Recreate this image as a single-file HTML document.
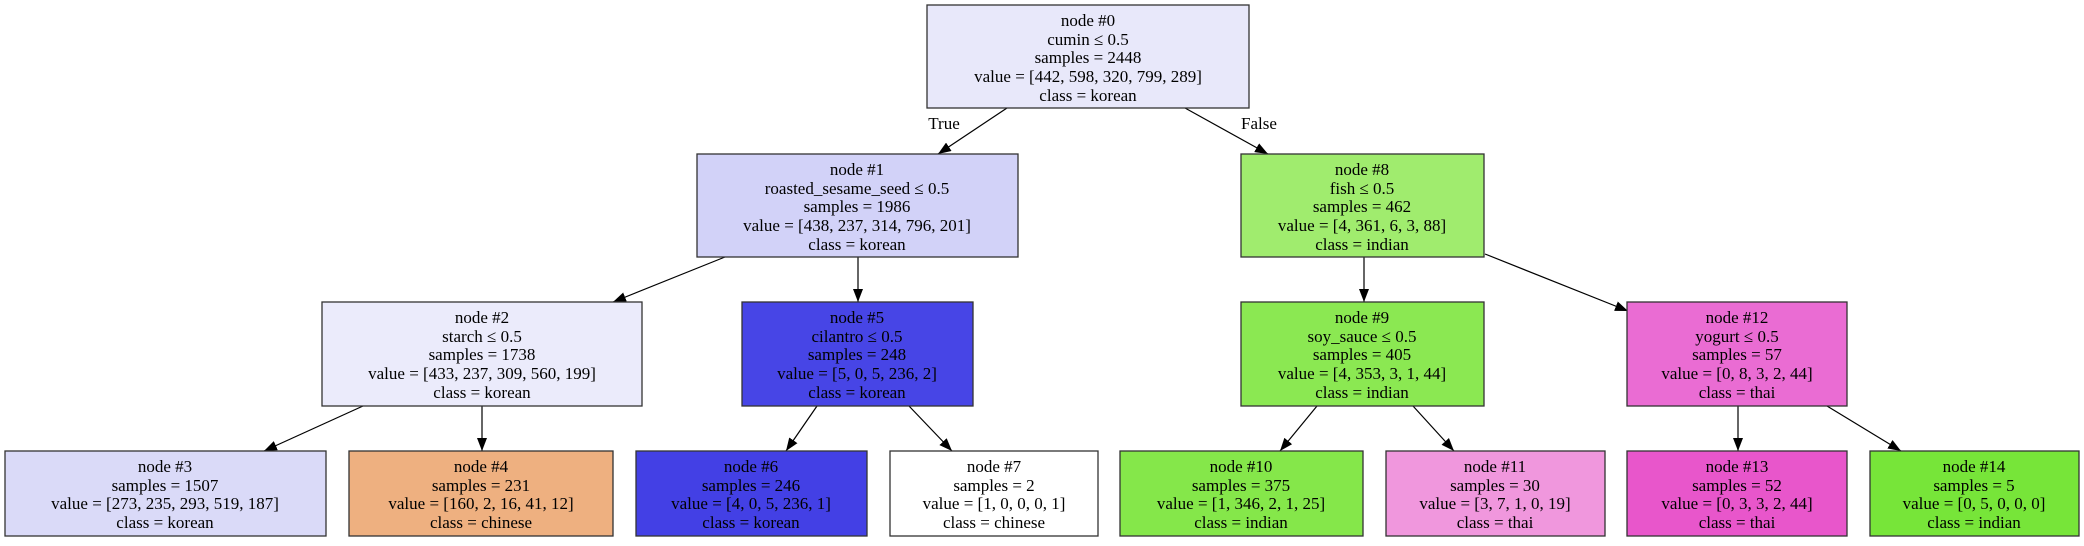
<!DOCTYPE html>
<html><head><meta charset="utf-8"><style>
html,body{margin:0;padding:0;background:#fff;}
svg text{font-family:"Liberation Serif",serif;font-size:17px;text-anchor:middle;fill:#000;}
</style></head><body>
<svg width="2084" height="541" viewBox="0 0 2084 541" xmlns="http://www.w3.org/2000/svg">
<defs><marker id="a" markerWidth="13" markerHeight="10" refX="13" refY="5" orient="auto" markerUnits="userSpaceOnUse"><path d="M0,0 L13,5 L0,10 z" fill="#000"/></marker></defs>
<g stroke="#000" stroke-width="1.2" marker-end="url(#a)">
<line x1="1007" y1="108" x2="938" y2="154"/>
<line x1="1185" y1="108" x2="1268" y2="154"/>
<line x1="725" y1="257" x2="613" y2="302"/>
<line x1="858" y1="257" x2="858" y2="302"/>
<line x1="363" y1="406" x2="264" y2="451"/>
<line x1="482" y1="406" x2="482" y2="451"/>
<line x1="817" y1="406" x2="786" y2="451"/>
<line x1="909" y1="406" x2="952" y2="451"/>
<line x1="1364" y1="257" x2="1364" y2="302"/>
<line x1="1485" y1="254" x2="1628" y2="311"/>
<line x1="1317" y1="406" x2="1280" y2="451"/>
<line x1="1413" y1="406" x2="1454" y2="451"/>
<line x1="1738" y1="406" x2="1738" y2="451"/>
<line x1="1827" y1="406" x2="1901" y2="451"/>
</g>
<text x="944" y="129">True</text>
<text x="1259" y="129">False</text>
<g stroke="#333" stroke-width="1.3">
<rect x="927" y="5" width="322" height="103" fill="#e8e8fa"/>
<rect x="697" y="154" width="321" height="103" fill="#d2d2f8"/>
<rect x="1241" y="154" width="243" height="103" fill="#a0ec6e"/>
<rect x="322" y="302" width="320" height="104" fill="#ebebfb"/>
<rect x="742" y="302" width="231" height="104" fill="#4745e6"/>
<rect x="1241" y="302" width="243" height="104" fill="#8be852"/>
<rect x="1627" y="302" width="220" height="104" fill="#ea6cd3"/>
<rect x="5" y="451" width="321" height="85" fill="#dadaf8"/>
<rect x="349" y="451" width="264" height="85" fill="#eeb080"/>
<rect x="636" y="451" width="231" height="85" fill="#4340e5"/>
<rect x="890" y="451" width="208" height="85" fill="#ffffff"/>
<rect x="1120" y="451" width="243" height="85" fill="#85e74a"/>
<rect x="1386" y="451" width="219" height="85" fill="#f097dd"/>
<rect x="1627" y="451" width="220" height="85" fill="#e856cb"/>
<rect x="1870" y="451" width="209" height="85" fill="#77e539"/>
</g>
<g>
<text x="1088" y="26">node #0</text><text x="1088" y="45">cumin ≤ 0.5</text><text x="1088" y="63">samples = 2448</text><text x="1088" y="82">value = [442, 598, 320, 799, 289]</text><text x="1088" y="101">class = korean</text>
<text x="857" y="175">node #1</text><text x="857" y="194">roasted_sesame_seed ≤ 0.5</text><text x="857" y="212">samples = 1986</text><text x="857" y="231">value = [438, 237, 314, 796, 201]</text><text x="857" y="250">class = korean</text>
<text x="1362" y="175">node #8</text><text x="1362" y="194">fish ≤ 0.5</text><text x="1362" y="212">samples = 462</text><text x="1362" y="231">value = [4, 361, 6, 3, 88]</text><text x="1362" y="250">class = indian</text>
<text x="482" y="323">node #2</text><text x="482" y="342">starch ≤ 0.5</text><text x="482" y="360">samples = 1738</text><text x="482" y="379">value = [433, 237, 309, 560, 199]</text><text x="482" y="398">class = korean</text>
<text x="857" y="323">node #5</text><text x="857" y="342">cilantro ≤ 0.5</text><text x="857" y="360">samples = 248</text><text x="857" y="379">value = [5, 0, 5, 236, 2]</text><text x="857" y="398">class = korean</text>
<text x="1362" y="323">node #9</text><text x="1362" y="342">soy_sauce ≤ 0.5</text><text x="1362" y="360">samples = 405</text><text x="1362" y="379">value = [4, 353, 3, 1, 44]</text><text x="1362" y="398">class = indian</text>
<text x="1737" y="323">node #12</text><text x="1737" y="342">yogurt ≤ 0.5</text><text x="1737" y="360">samples = 57</text><text x="1737" y="379">value = [0, 8, 3, 2, 44]</text><text x="1737" y="398">class = thai</text>
<text x="165" y="472">node #3</text><text x="165" y="491">samples = 1507</text><text x="165" y="509">value = [273, 235, 293, 519, 187]</text><text x="165" y="528">class = korean</text>
<text x="481" y="472">node #4</text><text x="481" y="491">samples = 231</text><text x="481" y="509">value = [160, 2, 16, 41, 12]</text><text x="481" y="528">class = chinese</text>
<text x="751" y="472">node #6</text><text x="751" y="491">samples = 246</text><text x="751" y="509">value = [4, 0, 5, 236, 1]</text><text x="751" y="528">class = korean</text>
<text x="994" y="472">node #7</text><text x="994" y="491">samples = 2</text><text x="994" y="509">value = [1, 0, 0, 0, 1]</text><text x="994" y="528">class = chinese</text>
<text x="1241" y="472">node #10</text><text x="1241" y="491">samples = 375</text><text x="1241" y="509">value = [1, 346, 2, 1, 25]</text><text x="1241" y="528">class = indian</text>
<text x="1495" y="472">node #11</text><text x="1495" y="491">samples = 30</text><text x="1495" y="509">value = [3, 7, 1, 0, 19]</text><text x="1495" y="528">class = thai</text>
<text x="1737" y="472">node #13</text><text x="1737" y="491">samples = 52</text><text x="1737" y="509">value = [0, 3, 3, 2, 44]</text><text x="1737" y="528">class = thai</text>
<text x="1974" y="472">node #14</text><text x="1974" y="491">samples = 5</text><text x="1974" y="509">value = [0, 5, 0, 0, 0]</text><text x="1974" y="528">class = indian</text>
</g>
</svg>
</body></html>
